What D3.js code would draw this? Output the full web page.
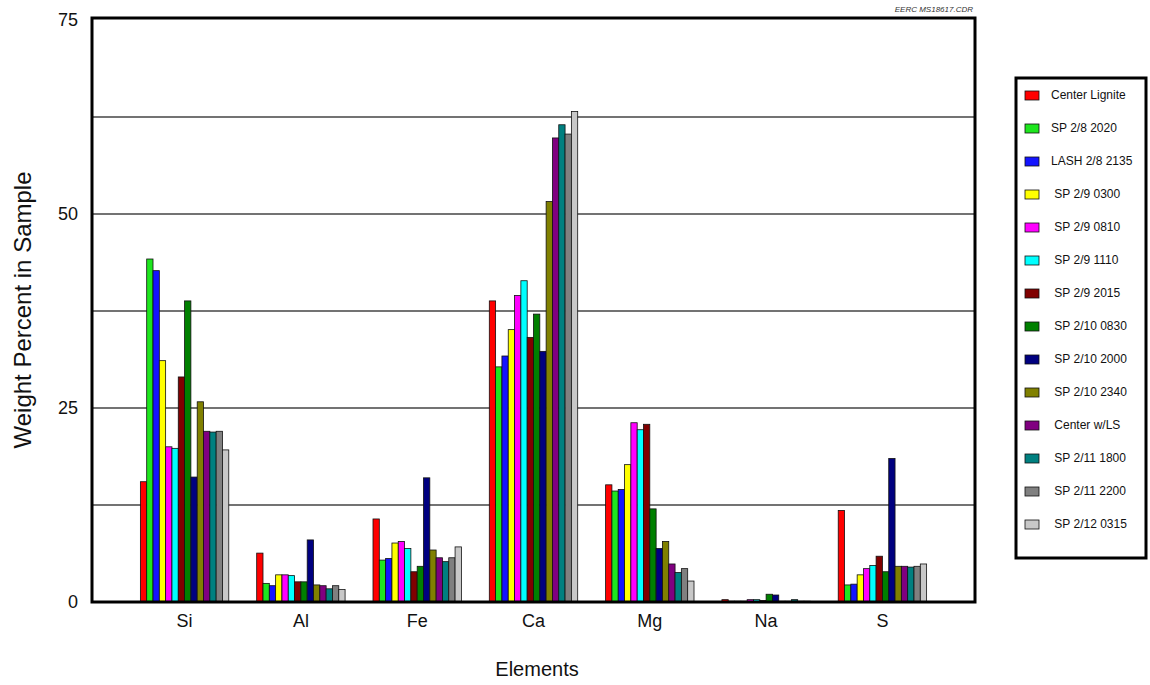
<!DOCTYPE html>
<html>
<head>
<meta charset="utf-8">
<script src="https://cdn.jsdelivr.net/npm/d3@7"></script>
<style>
  body { margin: 0; background: #fff; }
  text { font-family: "Liberation Sans", Arial, Helvetica, sans-serif; }
</style>
</head>
<body>
<div id="chart"></div>
<script>
var elements = ["Si", "Al", "Fe", "Ca", "Mg", "Na", "S"];

var samples = ["Center Lignite", "SP 2/8 2020", "LASH 2/8 2135", " SP 2/9 0300", " SP 2/9 0810",
  " SP 2/9 1110", " SP 2/9 2015", " SP 2/10 0830", " SP 2/10 2000", " SP 2/10 2340",
  " Center w/LS", " SP 2/11 1800", " SP 2/11 2200", " SP 2/12 0315"];

var sampleColors = ["#ff0000", "#1ee61e", "#1414ff", "#ffff00", "#ff00ff", "#00ffff", "#800000",
  "#008000", "#000080", "#808000", "#800080", "#008080", "#808080", "#c8c8c8"];

// one array per element, in sample order
var si = [15.5, 44.2, 42.7, 31.1, 20.0, 19.8, 29.0, 38.8, 16.1, 25.8, 22.0, 21.9, 22.0, 19.6];
var al = [6.3, 2.4, 2.1, 3.5, 3.5, 3.4, 2.6, 2.6, 8.0, 2.2, 2.1, 1.7, 2.1, 1.6];
var fe = [10.7, 5.4, 5.6, 7.6, 7.8, 6.9, 3.9, 4.6, 16.0, 6.7, 5.7, 5.2, 5.7, 7.1];
var ca = [38.8, 30.3, 31.7, 35.1, 39.5, 41.4, 34.1, 37.1, 32.3, 51.6, 59.8, 61.5, 60.3, 63.2];
var mg = [15.1, 14.3, 14.5, 17.7, 23.1, 22.2, 22.9, 12.0, 6.9, 7.8, 4.9, 3.8, 4.3, 2.7];
var na = [0.3, 0.1, 0.1, 0.1, 0.3, 0.3, 0.2, 1.0, 0.9, 0.1, 0.1, 0.3, 0.1, 0.1];
var s  = [11.8, 2.2, 2.3, 3.5, 4.3, 4.7, 5.9, 3.9, 18.5, 4.6, 4.6, 4.5, 4.6, 4.9];

var values = [si, al, fe, ca, mg, na, s];

var yTicks = [0, 25, 50, 75];
var gridTicks = [12.5, 25, 37.5, 50, 62.5];

var W = 1150, H = 685;
var plot = {left: 92, right: 975, top: 20, bottom: 602};

var svg = d3.select("#chart").append("svg")
  .attr("width", W)
  .attr("height", H);

var x = d3.scaleBand()
  .domain(elements)
  .range([plot.left, plot.right])
  .paddingInner(0.24)
  .paddingOuter(0.416);

var xs = d3.scaleBand()
  .domain(d3.range(samples.length))
  .range([0, x.bandwidth()]);

var y = d3.scaleLinear()
  .domain([0, 75])
  .range([plot.bottom, plot.top]);

// grid lines
svg.append("g").selectAll("line")
  .data(gridTicks)
  .enter().append("line")
  .attr("x1", plot.left)
  .attr("x2", plot.right)
  .attr("y1", function(d) { return y(d); })
  .attr("y2", function(d) { return y(d); })
  .attr("stroke", "#444")
  .attr("stroke-width", 1.3);

// bars
var groups = svg.append("g").selectAll("g")
  .data(values)
  .enter().append("g")
  .attr("transform", function(d, i) { return "translate(" + x(elements[i]) + ",0)"; });

groups.selectAll("rect")
  .data(function(d) { return d; })
  .enter().append("rect")
  .attr("x", function(d, i) { return xs(i); })
  .attr("y", function(d) { return y(d); })
  .attr("width", xs.bandwidth())
  .attr("height", function(d) { return y(0) - y(d); })
  .attr("fill", function(d, i) { return sampleColors[i]; })
  .attr("stroke", "#111")
  .attr("stroke-width", 0.8);

// frame
svg.append("rect")
  .attr("x", plot.left)
  .attr("y", plot.top - 2)
  .attr("width", plot.right - plot.left)
  .attr("height", plot.bottom - plot.top + 2)
  .attr("fill", "none")
  .attr("stroke", "#000")
  .attr("stroke-width", 3);

// y axis labels (no tick marks)
var yAxis = d3.axisLeft(y).tickValues(yTicks).tickSize(0).tickPadding(14);
svg.append("g")
  .attr("transform", "translate(" + plot.left + ",0)")
  .call(yAxis)
  .call(function(g) { g.select(".domain").remove(); })
  .selectAll("text")
  .style("font-size", "18px")
  .attr("fill", "#111");

var xAxis = d3.axisBottom(x).tickSize(0).tickPadding(12);
svg.append("g")
  .attr("transform", "translate(0," + plot.bottom + ")")
  .call(xAxis)
  .call(function(g) { g.select(".domain").remove(); })
  .selectAll("text")
  .style("font-size", "18px")
  .attr("fill", "#111");

svg.append("text")
  .attr("transform", "translate(31,310) rotate(-90)")
  .style("text-anchor", "middle")
  .style("font-size", "24px")
  .attr("fill", "#111")
  .text("Weight Percent in Sample");

svg.append("text")
  .attr("x", 537)
  .attr("y", 676)
  .style("text-anchor", "middle")
  .style("font-size", "20px")
  .attr("fill", "#111")
  .text("Elements");

svg.append("text")
  .attr("x", 973)
  .attr("y", 12)
  .style("text-anchor", "end")
  .style("font-size", "8px")
  .style("font-style", "italic")
  .attr("fill", "#333")
  .text("EERC MS18617.CDR");

// legend
var legend = svg.append("g").attr("class", "legend");

legend.append("rect")
  .attr("x", 1016)
  .attr("y", 78)
  .attr("width", 130)
  .attr("height", 480)
  .attr("fill", "#fff")
  .attr("stroke", "#000")
  .attr("stroke-width", 3);

legend.selectAll(".sw")
  .data(samples)
  .enter().append("rect")
  .attr("class", "sw")
  .attr("x", 1025)
  .attr("y", function(d, i) { return 91 + i * 33; })
  .attr("width", 14)
  .attr("height", 9)
  .attr("fill", function(d, i) { return sampleColors[i]; })
  .attr("stroke", "#111")
  .attr("stroke-width", 0.8);

legend.selectAll(".lbl")
  .data(samples)
  .enter().append("text")
  .attr("class", "lbl")
  .attr("x", 1051)
  .attr("y", function(d, i) { return 99 + i * 33; })
  .style("font-size", "12px")
  .style("white-space", "pre")
  .attr("fill", "#111")
  .text(function(d) { return d; });
</script>
</body>
</html>
